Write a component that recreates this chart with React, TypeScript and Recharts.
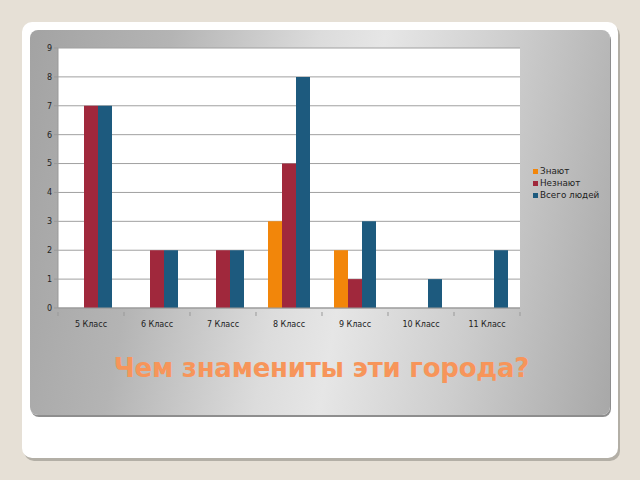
import * as React from "react";
import { BarChart, Bar, XAxis, YAxis, CartesianGrid } from "recharts";

const grades = ["5 Класс", "6 Класс", "7 Класс", "8 Класс", "9 Класс", "10 Класс", "11 Класс"];
const know = [0, 0, 0, 3, 2, 0, 0];
const dontKnow = [7, 2, 2, 5, 1, 0, 0];
const total = [7, 2, 2, 8, 3, 1, 2];
const yTicks = [0, 1, 2, 3, 4, 5, 6, 7, 8, 9];

const series = [
  { key: "know", name: "Знают", color: "#f2860a" },
  { key: "dontKnow", name: "Незнают", color: "#a0283c" },
  { key: "total", name: "Всего людей", color: "#1d5a7e" },
];

const font = "'DejaVu Sans', sans-serif";

// x-axis ticks sit on the category borders, not centres
function GradeTick(props: any) {
  const { x, y, payload } = props;
  const half = payload && payload.offset ? payload.offset : 33;
  return (
    <g>
      <line x1={x - half} y1={y - 4} x2={x - half} y2={y} stroke="#999" />
      {payload.index === grades.length - 1 && (
        <line x1={x + half} y1={y - 4} x2={x + half} y2={y} stroke="#999" />
      )}
      <text x={x} y={y + 11} textAnchor="middle" fontSize={8} fill="#222" fontFamily={font}>
        {payload.value}
      </text>
    </g>
  );
}

export default function App() {
  const data = React.useMemo(
    () =>
      grades.map((g, i) => ({
        grade: g,
        know: know[i],
        dontKnow: dontKnow[i],
        total: total[i],
      })),
    []
  );

  return (
    <div
      style={{
        position: "absolute",
        left: 0,
        top: 0,
        width: 640,
        height: 480,
        background: "#e6e0d6",
        overflow: "hidden",
        fontFamily: font,
      }}
    >
      <div
        style={{
          position: "absolute",
          left: 22,
          top: 22,
          width: 596,
          height: 436,
          background: "#fff",
          borderRadius: 10,
          boxShadow: "2px 3px 0 #b3afa6",
        }}
      />
      <div
        style={{
          position: "absolute",
          left: 30,
          top: 30,
          width: 580,
          height: 385,
          borderRadius: 8,
          background:
            "linear-gradient(100deg, #a3a3a3 0%, #b4b4b4 22%, #dcdcdc 45%, #e6e6e6 55%, #cdcdcd 75%, #a8a8a8 100%)",
          boxShadow: "1px 2px 0 #8e8e8e",
        }}
      />
      <div style={{ position: "absolute", left: 30, top: 30 }}>
        <BarChart
          width={580}
          height={310}
          data={data}
          margin={{ top: 18, right: 90, left: 0, bottom: 10 }}
          barSize={14}
          barGap={0}
        >
          <CartesianGrid vertical={false} stroke="#a0a0a0" fill="#ffffff" />
          <XAxis
            dataKey="grade"
            height={22}
            tick={<GradeTick />}
            tickLine={false}
            axisLine={{ stroke: "#999" }}
            interval={0}
          />
          <YAxis
            width={28}
            domain={[0, 9]}
            ticks={yTicks}
            interval={0}
            tickSize={4}
            tickLine={{ stroke: "#999" }}
            axisLine={{ stroke: "#999" }}
            tick={{ fontSize: 8, fill: "#222", fontFamily: font }}
          />
          {series.map((s) => (
            <Bar key={s.key} dataKey={s.key} name={s.name} fill={s.color} isAnimationActive={false} />
          ))}
        </BarChart>
      </div>
      <div style={{ position: "absolute", left: 533, top: 165, fontSize: 8.8, color: "#222", lineHeight: "12px" }}>
        {series.map((s) => (
          <div key={s.key} style={{ display: "flex", alignItems: "center" }}>
            <span style={{ width: 5, height: 5, background: s.color, marginRight: 2, display: "inline-block" }} />
            {s.name}
          </div>
        ))}
      </div>
      <div
        style={{
          position: "absolute",
          left: 30,
          width: 580,
          top: 353,
          textAlign: "center",
          fontSize: 26,
          lineHeight: "30px",
          letterSpacing: -0.25,
          fontWeight: "bold",
          color: "#f7955a",
          paddingLeft: 3,
          boxSizing: "border-box",
          whiteSpace: "nowrap",
        }}
      >
        Чем знамениты эти города?
      </div>
    </div>
  );
}
